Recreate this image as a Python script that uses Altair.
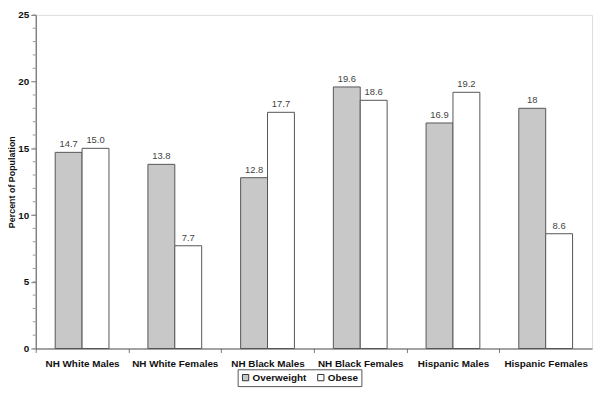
import altair as alt
import pandas as pd

groups = ["NH White Males", "NH White Females", "NH Black Males",
          "NH Black Females", "Hispanic Males", "Hispanic Females"]
overweight = [14.7, 13.8, 12.8, 19.6, 16.9, 18.0]
obese = [15.0, 7.7, 17.7, 18.6, 19.2, 8.6]
overweight_labels = ["14.7", "13.8", "12.8", "19.6", "16.9", "18"]
obese_labels = ["15.0", "7.7", "17.7", "18.6", "19.2", "8.6"]
series = ["Overweight", "Obese"]
minor_ticks = list(range(0, 26))

rows = []
for g, v, l in zip(groups, overweight, overweight_labels):
    rows.append({"group": g, "series": "Overweight", "value": v, "label": l})
for g, v, l in zip(groups, obese, obese_labels):
    rows.append({"group": g, "series": "Obese", "value": v, "label": l})
df = pd.DataFrame(rows)

W, H = 562, 337
step = W / 6.0

x = alt.X("group:N", sort=groups, title=None,
          scale=alt.Scale(paddingInner=0.42, paddingOuter=0.21),
          axis=alt.Axis(labelAngle=0, labelFontWeight="bold", labelFontSize=10,
                        labelColor="#111", labelFont="Liberation Sans",
                        tickOffset=-step / 2, labelOffset=step / 2,
                        tickSize=4, tickColor="#777",
                        domainColor="#555", labelPadding=6))
xo = alt.XOffset("series:N", sort=series, scale=alt.Scale(paddingInner=0, paddingOuter=0))
y = alt.Y("value:Q", title="Percent of Population",
          scale=alt.Scale(domain=[0, 25], nice=False),
          axis=alt.Axis(values=[0, 5, 10, 15, 20, 25], grid=False,
                        labelFontWeight="bold", labelFontSize=10, labelColor="#111",
                        labelFont="Liberation Sans",
                        titleFontWeight="bold", titleFontSize=9, titleColor="#111",
                        titleFont="Liberation Sans", titlePadding=1,
                        tickSize=5, tickColor="#777", domainColor="#555", labelPadding=2))

color = alt.Color("series:N", sort=series,
                  scale=alt.Scale(domain=series, range=["#c8c8c8", "#ffffff"]),
                  legend=alt.Legend(title=None, orient="none", direction="horizontal",
                                    legendX=204, legendY=358,
                                    symbolType="square", symbolSize=40,
                                    symbolStrokeColor="#333", symbolStrokeWidth=1,
                                    labelFontWeight="bold", labelFontSize=10,
                                    labelFont="Liberation Sans", labelColor="#111",
                                    strokeColor="#555", padding=3, columnPadding=8,
                                    labelOffset=2, symbolOffset=0))

bars = alt.Chart(df).mark_bar(stroke="#555", strokeWidth=1).encode(
    x=x, xOffset=xo, y=y, color=color)

text = alt.Chart(df).mark_text(dy=-8, fontSize=9.5, color="#444",
                               font="Liberation Sans").encode(
    x=alt.X("group:N", sort=groups), xOffset=xo, y="value:Q", text="label:N")

minor = alt.Chart(pd.DataFrame({"t": minor_ticks})).mark_rule(
    color="#999", strokeWidth=1).encode(
    y="t:Q", x=alt.value(-3), x2=alt.value(0))

chart = alt.layer(minor, bars, text).properties(
    width=W, height=H,
    padding={"left": 28, "top": 5, "right": 4, "bottom": 45},
    autosize=alt.AutoSizeParams(type="none"),
).configure_view(stroke="#555", strokeWidth=1).configure(background="white")

chart.save("out.html", embed_options={"renderer": "svg", "actions": False})
